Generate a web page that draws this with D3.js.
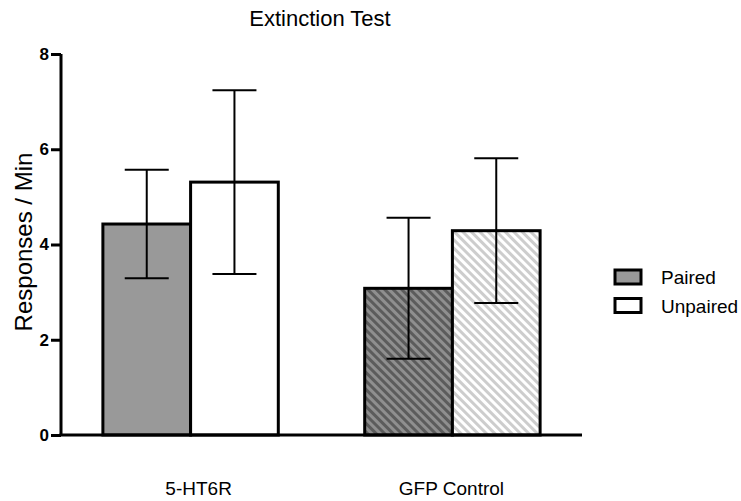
<!DOCTYPE html>
<html>
<head>
<meta charset="utf-8">
<script src="https://cdn.jsdelivr.net/npm/d3@7"></script>
<style>
  body { margin: 0; background: #fff; }
  svg { font-family: 'Liberation Sans', Arial, sans-serif; }
  .tick text { font-weight: bold; font-size: 17px; fill: #000; }
</style>
</head>
<body>
<div id="vis"></div>
<script>
const groups = ['5-HT6R', 'GFP Control']
const series = ['Paired', 'Unpaired']
const means = [[4.43, 5.31], [3.08, 4.29]]
const errs = [[1.14, 1.93], [1.48, 1.52]]
const yTicks = [0, 2, 4, 6, 8]

const W = 741
const H = 501
const MARGIN = { top: 54, bottom: 66, left: 61, right: 159 }

const svg = d3.select('#vis').append('svg')
	.attr('width', W)
	.attr('height', H)

const defs = svg.append('defs')

// hatch patterns for the GFP group
function hatch(id, bg, stripe) {
	const p = defs.append('pattern')
		.attr('id', id)
		.attr('patternUnits', 'userSpaceOnUse')
		.attr('width', 6)
		.attr('height', 6)
		.attr('patternTransform', 'rotate(-45)')
	p.append('rect').attr('width', 6).attr('height', 6).attr('fill', bg)
	p.append('rect').attr('width', 3).attr('height', 6).attr('fill', stripe)
}
hatch('hatchDark', '#8f8f8f', '#5c5c5c')
hatch('hatchLight', '#ffffff', '#cdcdcd')

const fills = [
	['#999999', '#ffffff'],
	['url(#hatchDark)', 'url(#hatchLight)']
]

const scale = {}
scale.y = d3.scaleLinear().domain([0, 8]).range([H - MARGIN.bottom, MARGIN.top])
scale.x = d3.scaleBand().domain(groups)
	.range([MARGIN.left, W - MARGIN.right])
	.paddingInner(0.33)
	.paddingOuter(0.16)
scale.sub = d3.scaleBand().domain(series).range([0, scale.x.bandwidth()])

// title
svg.append('text')
	.attr('x', 320)
	.attr('y', 26)
	.attr('text-anchor', 'middle')
	.style('font-size', '22px')
	.text('Extinction Test')

// bars
const groupG = svg.selectAll('.group').data(groups).enter()
	.append('g')
	.attr('class', 'group')
	.attr('transform', d => `translate(${scale.x(d)},0)`)

groupG.each(function(g, gi) {
	const el = d3.select(this)
	const rows = series.map((s, si) => ({ s, v: means[gi][si], e: errs[gi][si], fill: fills[gi][si] }))

	el.selectAll('rect').data(rows).enter()
		.append('rect')
		.attr('x', d => scale.sub(d.s))
		.attr('y', d => scale.y(d.v))
		.attr('width', scale.sub.bandwidth())
		.attr('height', d => scale.y(0) - scale.y(d.v))
		.attr('fill', d => d.fill)
		.attr('stroke', '#000')
		.attr('stroke-width', 3)

	const err = el.selectAll('.err').data(rows).enter()
		.append('g')
		.attr('class', 'err')
		.attr('transform', d => `translate(${scale.sub(d.s) + scale.sub.bandwidth() / 2},0)`)
		.attr('stroke', '#000')
		.attr('stroke-width', 2)

	err.append('line')
		.attr('y1', d => scale.y(d.v - d.e))
		.attr('y2', d => scale.y(d.v + d.e))
	err.append('line')
		.attr('x1', -22).attr('x2', 22)
		.attr('y1', d => scale.y(d.v + d.e))
		.attr('y2', d => scale.y(d.v + d.e))
	err.append('line')
		.attr('x1', -22).attr('x2', 22)
		.attr('y1', d => scale.y(d.v - d.e))
		.attr('y2', d => scale.y(d.v - d.e))
})

// axes
const yAxis = svg.append('g')
	.attr('transform', `translate(${MARGIN.left},0)`)
	.call(d3.axisLeft(scale.y).tickValues(yTicks).tickSize(10).tickPadding(2))
yAxis.select('.domain').attr('stroke-width', 3).attr('d', `M0,${scale.y(8)}V${scale.y(0)}`)
yAxis.selectAll('.tick line').attr('stroke-width', 3)

const xAxis = svg.append('g')
	.attr('transform', `translate(0,${scale.y(0)})`)
	.call(d3.axisBottom(scale.x).tickSize(0).tickPadding(47))
xAxis.select('.domain').attr('stroke-width', 3).attr('d', `M${MARGIN.left - 1.5},0H${582}`)
xAxis.selectAll('.tick text').style('font-weight', 'normal').style('font-size', '19px')
	.attr('dx', (d, i) => i === 0 ? 8 : -1)

// y label
svg.append('text')
	.attr('transform', `translate(32,242) rotate(-90)`)
	.attr('text-anchor', 'middle')
	.style('font-size', '24px')
	.text('Responses / Min')

// legend
const legend = svg.append('g')
	.attr('transform', 'translate(615,270)')
const item = legend.selectAll('.item').data(series).enter()
	.append('g')
	.attr('transform', (d, i) => `translate(0,${i * 28.5})`)
item.append('rect')
	.attr('width', 26)
	.attr('height', 14)
	.attr('fill', (d, i) => fills[0][i])
	.attr('stroke', '#000')
	.attr('stroke-width', 3)
item.append('text')
	.attr('x', 46)
	.attr('y', 14)
	.style('font-size', '19px')
	.text(d => d)
</script>
</body>
</html>
